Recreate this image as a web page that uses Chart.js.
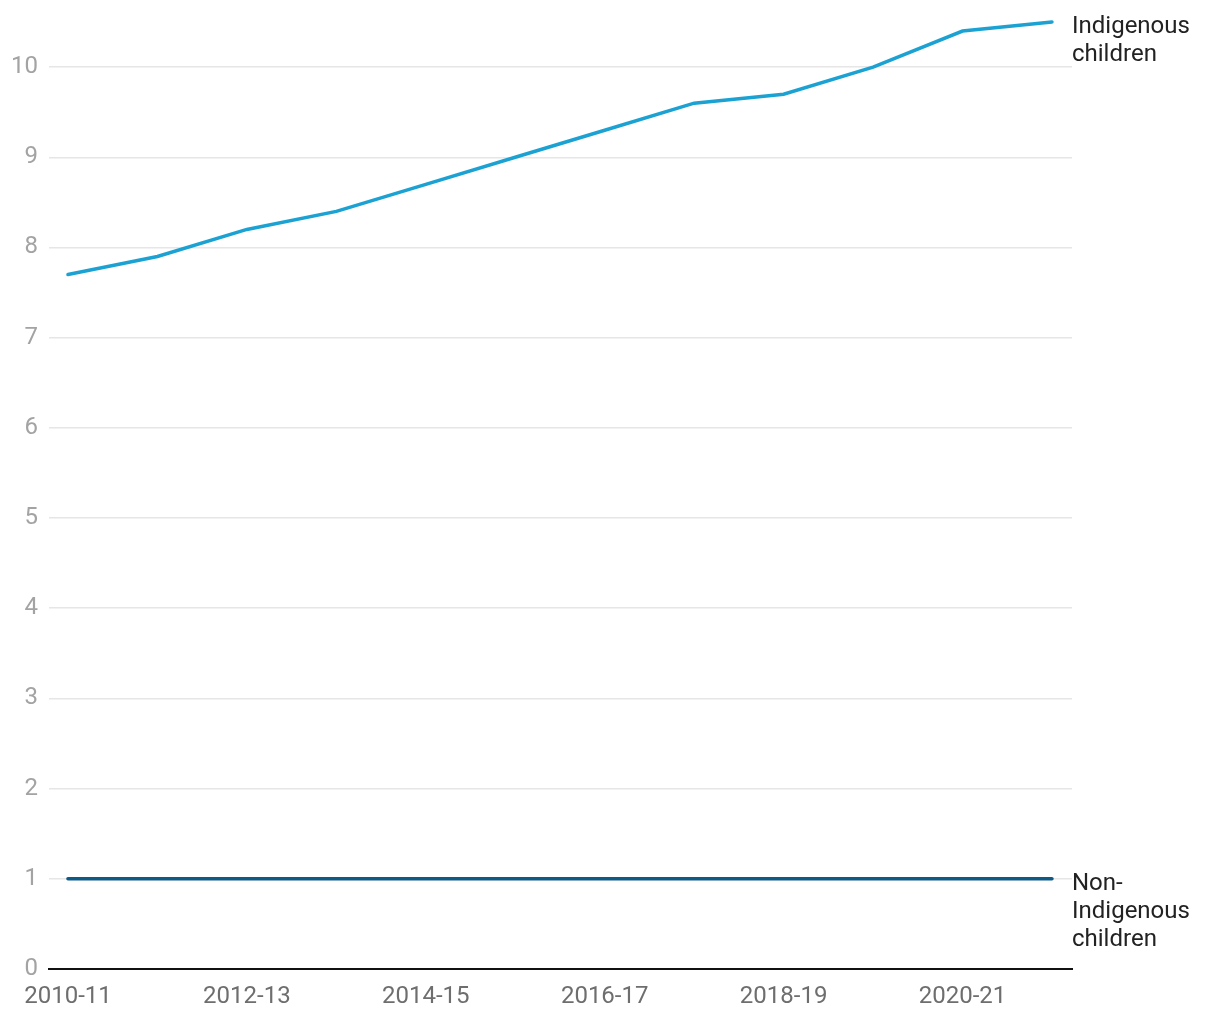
<!DOCTYPE html>
<html>
<head>
<meta charset="utf-8">
<script src="https://cdn.jsdelivr.net/npm/chart.js@4.4.1/dist/chart.umd.min.js"></script>
<style>
  html, body { margin: 0; padding: 0; background: #fff; }
  #wrap { width: 1220px; height: 1020px; position: relative; }
</style>
</head>
<body>
<div id="wrap"><canvas id="chart"></canvas></div>
<script>
// Financial years on the x axis
const years = ['2010-11', '2011-12', '2012-13', '2013-14', '2014-15', '2015-16',
  '2016-17', '2017-18', '2018-19', '2019-20', '2020-21', '2021-22'];

// Rate per series
const indigenous = [7.7, 7.9, 8.2, 8.4, 8.7, 9.0, 9.3, 9.6, 9.7, 10.0, 10.4, 10.5];
const nonIndigenous = [1, 1, 1, 1, 1, 1, 1, 1, 1, 1, 1, 1];

const yTicks = [0, 1, 2, 3, 4, 5, 6, 7, 8, 9, 10];

const seriesLabels = [['Indigenous', 'children'], ['Non-', 'Indigenous', 'children']];

const FONT = 'Roboto, "Noto Sans", sans-serif';

// end-of-line labels instead of a legend
const endLabels = {
  id: 'endLabels',
  afterDatasetsDraw(chart) {
    const ctx = chart.ctx;
    ctx.save();
    ctx.font = '24px ' + FONT;
    ctx.fillStyle = '#222';
    ctx.textBaseline = 'middle';
    ctx.textAlign = 'left';
    chart.data.datasets.forEach((ds, i) => {
      const meta = chart.getDatasetMeta(i);
      const last = meta.data[meta.data.length - 1];
      const lines = seriesLabels[i];
      lines.forEach((t, j) => {
        ctx.fillText(t, chart.chartArea.right, last.y + 5 + j * 28);
      });
    });
    ctx.restore();
  }
};

const toPoints = arr => arr.map((v, i) => ({ x: i, y: v }));

new Chart(document.getElementById('chart'), {
  type: 'line',
  data: {
    datasets: [
      {
        label: 'Indigenous children',
        data: toPoints(indigenous),
        borderColor: '#1ba2d2',
        borderWidth: 3.5,
        borderCapStyle: 'round',
        pointRadius: 0,
        tension: 0,
        clip: false
      },
      {
        label: 'Non-Indigenous children',
        data: toPoints(nonIndigenous),
        borderColor: '#0d5a85',
        borderWidth: 3.5,
        borderCapStyle: 'round',
        pointRadius: 0,
        tension: 0,
        clip: false
      }
    ]
  },
  options: {
    responsive: true,
    maintainAspectRatio: false,
    animation: false,
    layout: { padding: { top: 22, right: 148, left: 0, bottom: 0 } },
    plugins: {
      legend: { display: false },
      tooltip: { enabled: false }
    },
    scales: {
      x: {
        type: 'linear',
        min: -0.212,
        max: 11.224,
        afterBuildTicks(scale) {
          scale.ticks = years.map((y, i) => ({ value: i })).filter(t => t.value % 2 === 0);
        },
        afterFit(scale) { scale.height = 51; },
        ticks: {
          callback: v => years[v],
          color: '#6e6e6e',
          font: { family: FONT, size: 24 },
          padding: 14,
          maxRotation: 0,
          autoSkip: false
        },
        grid: { display: false, drawTicks: false },
        border: { display: true, color: '#111', width: 2 }
      },
      y: {
        min: 0,
        max: 10.5,
        afterBuildTicks(scale) {
          scale.ticks = yTicks.map(v => ({ value: v }));
        },
        afterFit(scale) {
          scale.width = 49;
          scale.paddingTop = 0;
          scale.paddingBottom = 0;
        },
        ticks: {
          color: '#a3a3a3',
          font: { family: FONT, size: 24 },
          padding: 11
        },
        grid: { color: '#e6e6e6', lineWidth: 1.5, drawTicks: false },
        border: { display: false }
      }
    }
  },
  plugins: [endLabels]
});
</script>
</body>
</html>
